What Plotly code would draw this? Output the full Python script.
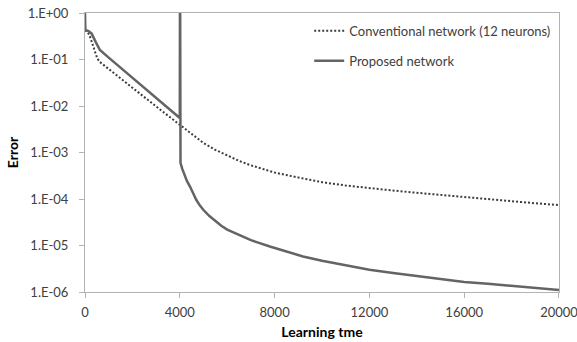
import plotly.graph_objects as go

# Conventional network (12 neurons)
conv_x = [0, 150, 210, 300, 420, 520, 630, 800, 1000, 1500, 2000, 2500, 3000, 3500, 4000,
          4500, 5000, 5500, 6000, 6500, 7000, 7500, 8000, 9000, 10000, 11000, 12000,
          13000, 14000, 15000, 16000, 17000, 18000, 19000, 20000]
conv_y = [0.43, 0.36, 0.31, 0.22, 0.14, 0.105, 0.088, 0.075, 0.062, 0.04, 0.025, 0.0157,
          0.0098, 0.0062, 0.0039, 2.45e-3, 1.6e-3, 1.14e-3, 8.5e-4, 6.6e-4, 5.3e-4, 4.4e-4,
          3.7e-4, 2.9e-4, 2.3e-4, 1.95e-4, 1.7e-4, 1.52e-4, 1.36e-4, 1.22e-4, 1.1e-4,
          1.0e-4, 9.0e-5, 8.1e-5, 7.4e-5]

# Proposed network
prop_x = [0, 15, 150, 280, 450, 630, 1000, 2000, 3000, 4000, 4010, 4030, 4100, 4200,
          4300, 4430, 4550, 4700, 4850, 5000, 5250, 5500, 5750, 6000, 6400, 7000, 7800,
          8500, 9200, 10000, 11000, 12000, 13000, 14000, 15000, 16000, 17000, 18000,
          19000, 20000]
prop_y = [1.0, 0.43, 0.41, 0.36, 0.24, 0.16, 0.11, 0.041, 0.015, 0.0055, 30, 6.0e-4,
          4.5e-4, 3.3e-4, 2.45e-4, 1.85e-4, 1.35e-4, 9.5e-5, 7.2e-5, 5.8e-5, 4.3e-5,
          3.3e-5, 2.65e-5, 2.2e-5, 1.8e-5, 1.3e-5, 9.5e-6, 7.3e-6, 5.8e-6, 4.7e-6, 3.7e-6,
          3.0e-6, 2.55e-6, 2.2e-6, 1.9e-6, 1.65e-6, 1.5e-6, 1.35e-6, 1.22e-6, 1.1e-6]

x_ticks = [0, 4000, 8000, 12000, 16000, 20000]
y_ticks = [1, 0.1, 0.01, 0.001, 0.0001, 0.00001, 0.000001]
y_labels = ["1.E+00", "1.E-01", "1.E-02", "1.E-03", "1.E-04", "1.E-05", "1.E-06"]

FONT = "Lato"
axis_col = "#b3b3b3"
text_col = "#404040"

fig = go.Figure()
fig.add_trace(go.Scatter(
    x=conv_x, y=conv_y, mode="lines", name="Conventional network (12 neurons)",
    line=dict(color="#3c3c3c", width=2, dash="2px,2px"), legendgroup="a"))
fig.add_trace(go.Scatter(
    x=prop_x, y=prop_y, mode="lines", name="Proposed network",
    line=dict(color="#646464", width=2.5), legendgroup="b"))

fig.update_layout(
    width=577, height=342, autosize=False,
    margin=dict(l=85, r=18, t=13, b=50, autoexpand=False),
    paper_bgcolor="white", plot_bgcolor="white",
    font=dict(family=FONT, size=13, color=text_col),
    legend=dict(x=0.473, y=0.99, xanchor="left", yanchor="top",
                bgcolor="rgba(0,0,0,0)", font=dict(size=13, color=text_col),
                traceorder="grouped", tracegroupgap=10),
    showlegend=True,
)
fig.update_xaxes(
    range=[0, 20000.5], tickvals=x_ticks, ticktext=[str(v) for v in x_ticks],
    showgrid=False, zeroline=False, showline=True, linecolor=axis_col, linewidth=1,
    mirror=True, ticks="outside", ticklen=5, tickcolor=axis_col, automargin=False,
    ticklabelstandoff=3, ticklabeloverflow="allow",
    title=dict(text="<b>Learning tme</b>", font=dict(size=14, color="black"), standoff=8),
)
fig.update_yaxes(
    type="log", range=[-6, 0], tickvals=y_ticks, ticktext=y_labels,
    showgrid=False, zeroline=False, showline=True, linecolor=axis_col, linewidth=1,
    mirror=True, ticks="outside", ticklen=5, tickcolor=axis_col, automargin=False,
    ticklabelstandoff=8, ticklabeloverflow="allow",
    title=dict(text="<b>Error</b>", font=dict(size=14, color="black"), standoff=5),
)

# remove the browser's default 8px body margin so the 577x342 figure fills the window
fig.write_html("out.html", config={"displayModeBar": False},
               post_script="document.body.style.margin='0px';document.body.style.overflow='hidden';")
